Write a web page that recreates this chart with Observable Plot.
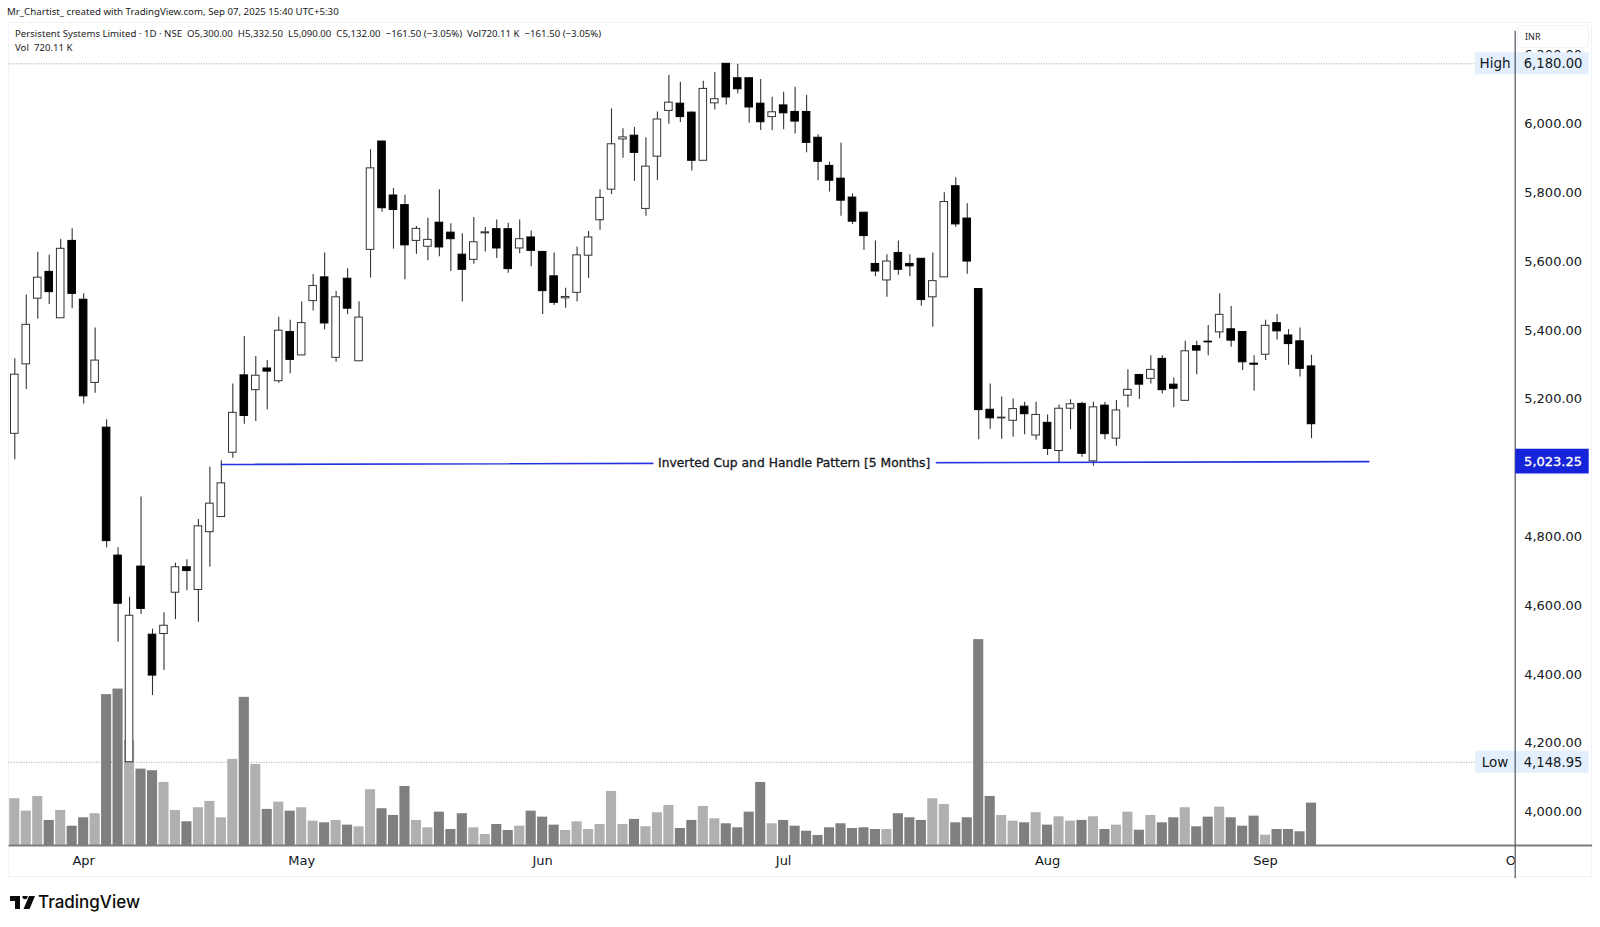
<!DOCTYPE html>
<html><head><meta charset="utf-8">
<script src="https://cdn.jsdelivr.net/npm/d3@7"></script>
<script src="https://cdn.jsdelivr.net/npm/@observablehq/plot@0.6"></script>
<style>
html,body{margin:0;padding:0;background:#fff;width:1600px;height:927px;overflow:hidden}
#wrap{position:relative;width:1600px;height:927px}
#chart{position:absolute;left:0;top:0}
.t{position:absolute;white-space:pre;color:#131722;font-family:"Noto Sans",sans-serif}
</style></head><body>
<div id="wrap">
<div style="position:absolute;left:8px;top:22px;width:1584px;height:855px;border:1px solid #f0f3fa;box-sizing:border-box"></div>
<div id="chart"></div>
<div class="t" style="left:7px;top:5px;font-size:9.7px;color:#222">Mr_Chartist_ created with TradingView.com, Sep 07, 2025 15:40 UTC+5:30</div>
<div class="t" style="left:15px;top:27px;font-size:9.65px;color:#222">Persistent Systems Limited · 1D · NSE  O5,300.00  H5,332.50  L5,090.00  C5,132.00  −161.50 (−3.05%)  Vol720.11 K  −161.50 (−3.05%)</div>
<div class="t" style="left:15px;top:41px;font-size:9.65px;color:#222">Vol  720.11 K</div>
<div style="position:absolute;left:1517px;top:25px;width:70px;height:21px;background:#fff;border:1px solid #f0f3fa;border-radius:4px"></div>
<div class="t" style="left:1525px;top:30px;font-size:9px;color:#222">INR</div>
<svg style="position:absolute;left:10px;top:896px" width="25" height="13" viewBox="0 0 25 13"><path d="M0 0H10V13H5V5H0Z M15 3.2a2.6 2.6 0 1 1 0.01 0Z M19 0H25L19.5 13H13.5Z" fill="#0b0b0b"/></svg>
<div class="t" style="left:38px;top:892px;font-family:Inter,sans-serif;font-weight:500;font-size:17px;color:#0b0b0b">TradingView</div>
</div>
<script>
const opens =[5104,5306,5497,5575,5440,5665,5494,5252,5122,4750,4149,4718,4520,4522,4642,4716,4650,4818,4862,5049,5274,5231,5294,5257,5400,5332,5490,5559,5325,5555,5315,5639,5954,5797,5769,5665,5648,5718,5689,5625,5610,5687,5699,5699,5643,5675,5633,5562,5498,5514,5622,5725,5814,5960,5971,5758,5910,6043,6064,6038,5898,6065,6180,6138,6138,6064,6025,6059,6040,6040,5965,5883,5846,5791,5747,5598,5550,5630,5598,5613,5501,5559,5824,5730,5525,5174,5149,5142,5183,5099,5136,5054,5177,5191,5024,5186,5090,5215,5275,5264,5322,5247,5200,5359,5372,5399,5408,5400,5308,5334,5426,5390,5373,5300];
const highs =[5322,5508,5632,5623,5669,5700,5511,5412,5145,4773,4629,4920,4536,4584,4728,4738,4855,5007,5026,5249,5387,5329,5317,5443,5434,5487,5567,5630,5518,5584,5488,5930,5954,5817,5798,5707,5731,5814,5715,5686,5733,5704,5726,5716,5726,5694,5634,5630,5527,5647,5692,5814,6049,5991,5995,5965,6040,6146,6126,6040,6129,6155,6180,6178,6138,6134,6083,6097,6112,6088,5974,5894,5949,5802,5747,5665,5625,5665,5625,5613,5630,5805,5849,5773,5525,5249,5211,5205,5196,5196,5159,5188,5203,5196,5196,5195,5201,5290,5277,5331,5331,5266,5373,5373,5419,5511,5474,5400,5331,5434,5451,5407,5412,5332.5];
const lows =[5029,5233,5437,5480,5440,5468,5191,5222,4773,4498,4148.95,4579,4343,4416,4564,4648,4556,4716,4862,5033,5132,5140,5174,5251,5279,5332,5461,5407,5312,5451,5315,5557,5748,5641,5552,5626,5607,5619,5576,5487,5597,5633,5614,5571,5628,5590,5451,5477,5469,5487,5556,5696,5800,5905,5838,5737,5841,6004,6009,5868,5898,6046,6060,6092,6007,5986,5986,5988,5976,5921,5840,5807,5737,5713,5638,5561,5501,5565,5561,5475,5414,5559,5705,5568,5087,5117,5088,5094,5101,5085,5041,5020,5116,5036,5010,5087,5068,5180,5204,5249,5220,5180,5200,5276,5331,5381,5356,5288,5228,5317,5377,5303,5269,5090];
const closes=[5276,5421,5558,5516,5642,5511,5213,5317,4792,4610,4575,4595,4401,4546,4716,4705,4835,4901,4960,5165,5156,5273,5285,5404,5319,5426,5534,5425,5501,5468,5442,5876,5760,5755,5652,5700,5668,5646,5670,5581,5661,5690,5643,5583,5670,5636,5519,5485,5502,5623,5675,5790,5946,5966,5921,5881,6018,6067,6025,5898,6107,6077,6082,6106,6053,6010,6039,6036,6012,5950,5895,5840,5782,5721,5679,5576,5605,5581,5591,5493,5548,5778,5713,5605,5173,5149,5151,5176,5161,5159,5060,5177,5190,5046,5181,5103,5172,5232,5247,5290,5231,5235,5344,5346,5370,5450,5375,5312,5305,5418,5402,5365,5293,5132];
const volumesK=[795,584,834,426,596,328,471,540,2565,2660,1787,1299,1271,1072,596,403,642,749,471,1464,2519,1379,613,737,584,642,414,386,426,346,318,948,625,511,1004,426,301,567,272,540,301,187,357,255,328,584,482,346,255,403,272,357,919,357,443,318,557,681,289,426,664,454,369,301,567,1072,369,426,328,243,170,301,369,289,301,272,272,540,471,426,795,698,386,471,3501,834,511,414,386,557,346,488,414,426,488,272,346,567,260,511,386,471,642,318,482,652,471,328,499,175,272,272,233,720.11];
const monthLabels=["Apr","May","Jun","Jul","Aug","Sep","Oct"];
const monthBars=[6,25,46,67,90,109,130.9];
const priceTicks=[4000,4200,4400,4600,4800,5200,5400,5600,5800,6000,6200];
const highPrice=6180, lowPrice=4148.95, lastLine=5023.25, lineStart=5015;
const patternLabel="Inverted Cup and Handle Pattern [5 Months]";

// volume pane shares the frame: a second linear mapping (thousand shares → price-axis units)
const volBase=3907, volPerK=0.171;
const candles=opens.map((o,i)=>({i,o,h:highs[i],l:lows[i],c:closes[i],v:volumesK[i],up:closes[i]>=o}));

const chart=Plot.plot({
  width:1600,height:927,
  marginLeft:8,marginRight:85.3,marginTop:23,marginBottom:50,
  style:{background:"transparent",fontFamily:"'DejaVu Sans',sans-serif",fontSize:"13px",color:"#131722"},
  x:{axis:null,domain:[0,113],range:[14.3,1311]},
  y:{axis:null,domain:[4000,6000],range:[813,125.2]},
  marks:[
    Plot.ruleY([highPrice,lowPrice],{x1:-0.5,x2:127.3,stroke:"#9a9ea6",strokeWidth:1,strokeDasharray:"1,1.5"}),
    Plot.rect(candles,{x1:d=>d.i-0.44,x2:d=>d.i+0.44,y1:volBase,y2:d=>volBase+d.v*volPerK,
      fill:d=>d.up?"#b0b0b0":"#7f7f7f"}),
    Plot.ruleY([volBase],{x1:-0.5,x2:137.5,stroke:"#7d7d7d",strokeWidth:1.8}),
    Plot.ruleX(candles,{x:"i",y1:"l",y2:"h",stroke:"#333",strokeWidth:1.1}),
    Plot.rect(candles,{x1:d=>d.i-0.33,x2:d=>d.i+0.33,y1:d=>Math.min(d.o,d.c),y2:d=>Math.max(d.o,d.c),
      fill:d=>d.up?"#fff":"#000",stroke:d=>d.up?"#333":"#000",strokeWidth:1}),
    Plot.line([[18,lineStart],[118,lastLine]],{stroke:"#2233dd",strokeWidth:1.6}),
    Plot.rect([0],{x1:55.7,x2:80.3,y1:5000,y2:5040,fill:"#fff"}),
    Plot.text([patternLabel],{x:67.92,y:5019,text:d=>d,fontSize:12.3,fill:"#131722",stroke:"#131722",strokeWidth:0.3,fontFamily:"'DejaVu Sans',sans-serif"}),
    Plot.text(monthLabels,{x:(d,i)=>monthBars[i],text:d=>d,frameAnchor:"bottom",lineAnchor:"middle",dy:-17,fontSize:13,clip:"frame"}),
    Plot.axisY(priceTicks,{anchor:"right",tickSize:0,tickPadding:9,label:null,dy:-1.6,tickFormat:d3.format(",.2f"),fontSize:13}),
    Plot.rect([highPrice,lowPrice],{x1:127.3,x2:137.2,y1:d=>d-32,y2:d=>d+32,fill:"#e3effd"}),
    Plot.text(["High","Low"],{x:129,y:(d,i)=>[highPrice,lowPrice][i],text:d=>d,fontSize:13.5,fill:"#131722"}),
    Plot.text([highPrice,lowPrice],{x:134.05,y:d=>d,text:d3.format(",.2f"),fontSize:13.2,fill:"#131722"}),
    Plot.ruleX([130.75],{y1:3810,y2:6275,stroke:"#50535e",strokeWidth:1.2}),
    Plot.rect([lastLine],{x1:130.8,x2:137.2,y1:d=>d-36,y2:d=>d+36,fill:"#1524d8"}),
    Plot.text([lastLine],{x:134.05,y:d=>d,text:d3.format(",.2f"),fontSize:13,fill:"#fff",stroke:"#fff",strokeWidth:0.3})
  ]
});
document.getElementById("chart").appendChild(chart);
</script>
</body></html>
